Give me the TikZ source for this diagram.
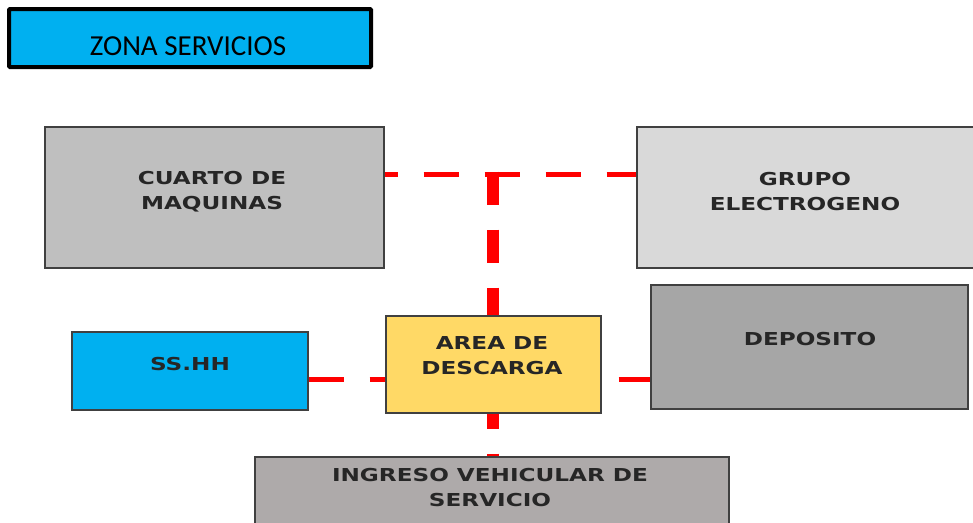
\documentclass[tikz,border=0pt]{standalone}
\usepackage{fontspec}
\newfontfamily\titlefont{Carlito}
\newfontfamily\boxfont[FakeStretch=1.3]{DejaVu Sans Bold}
\definecolor{cyanfill}{HTML}{00B0F0}
\definecolor{cuartofill}{HTML}{BFBFBF}
\definecolor{grupofill}{HTML}{D9D9D9}
\definecolor{depofill}{HTML}{A6A6A6}
\definecolor{areafill}{HTML}{FFD966}
\definecolor{ingfill}{HTML}{AEAAAA}
\definecolor{edge}{HTML}{404040}
\definecolor{txt}{HTML}{262626}
\definecolor{conred}{HTML}{FF0000}
\begin{document}
\begin{tikzpicture}[x=1pt,y=1pt,
  roombox/.style={draw=edge,line width=1.3pt,inner sep=0pt},
  roomtext/.style={font=\boxfont\fontsize{17.8}{25}\selectfont,text=txt,align=center,inner sep=0pt},
  hline/.style={draw=conred,line width=5pt},
  vline/.style={draw=conred,line width=12pt}]
\useasboundingbox (0,0) rectangle (973,-522);
% title
\node[draw=black,line width=4pt,rounded corners=1pt,fill=cyanfill,minimum width=362,minimum height=58,inner sep=0pt] (title) at (190,-38) {};
\node[font=\titlefont\fontsize{29}{30}\selectfont,text=black,inner sep=0pt] (titletext) at (188,-46.5) {ZONA SERVICIOS};
% boxes
\node[roombox,fill=cuartofill,minimum width=339,minimum height=141] (cuarto) at (214.5,-197.5) {};
\node[roombox,fill=grupofill,minimum width=340,minimum height=141] (grupo) at (807,-197.5) {};
\node[roombox,fill=cyanfill,minimum width=236,minimum height=78] (sshh) at (190,-371) {};
\node[roombox,fill=areafill,minimum width=215,minimum height=97] (area) at (493.5,-364.5) {};
\node[roombox,fill=depofill,minimum width=317,minimum height=124] (deposito) at (809.5,-347) {};
\node[roombox,fill=ingfill,minimum width=474,minimum height=80] (ingreso) at (492,-497) {};
% texts
\node[roomtext] (cuartotext) at (212,-192) {CUARTO DE\\MAQUINAS};
\node[roomtext] (grupotext) at (805,-192) {GRUPO\\ELECTROGENO};
\node[roomtext] (sshhtext) at (190,-364.5) {SS.HH};
\node[roomtext] (areatext) at (492,-356) {AREA DE\\DESCARGA};
\node[roomtext] (depotext) at (810,-339) {DEPOSITO};
\node[roomtext] (ingtext) at (490,-488) {INGRESO VEHICULAR DE\\SERVICIO};
% connectors
\coordinate (hub) at (492.5,-174);
\coordinate (mid) at (0,-379);
\draw[hline,dash pattern=on 35pt off 26pt,dash phase=22pt] (cuarto.east |- hub) -- (grupo.west |- hub);
\draw[vline,dash pattern=on 33pt off 25pt] ([yshift=2.5pt]hub) -- (hub |- area.north);
\draw[vline,dash pattern=on 33pt off 25pt,dash phase=18pt] (hub |- area.south) -- (hub |- ingreso.north);
\draw[hline,dash pattern=on 35pt off 26pt] (sshh.east |- mid) -- (area.west |- mid);
\draw[hline,dash pattern=on 35pt off 26pt,dash phase=44pt] (area.east |- mid) -- (deposito.west |- mid);
\end{tikzpicture}
\end{document}
